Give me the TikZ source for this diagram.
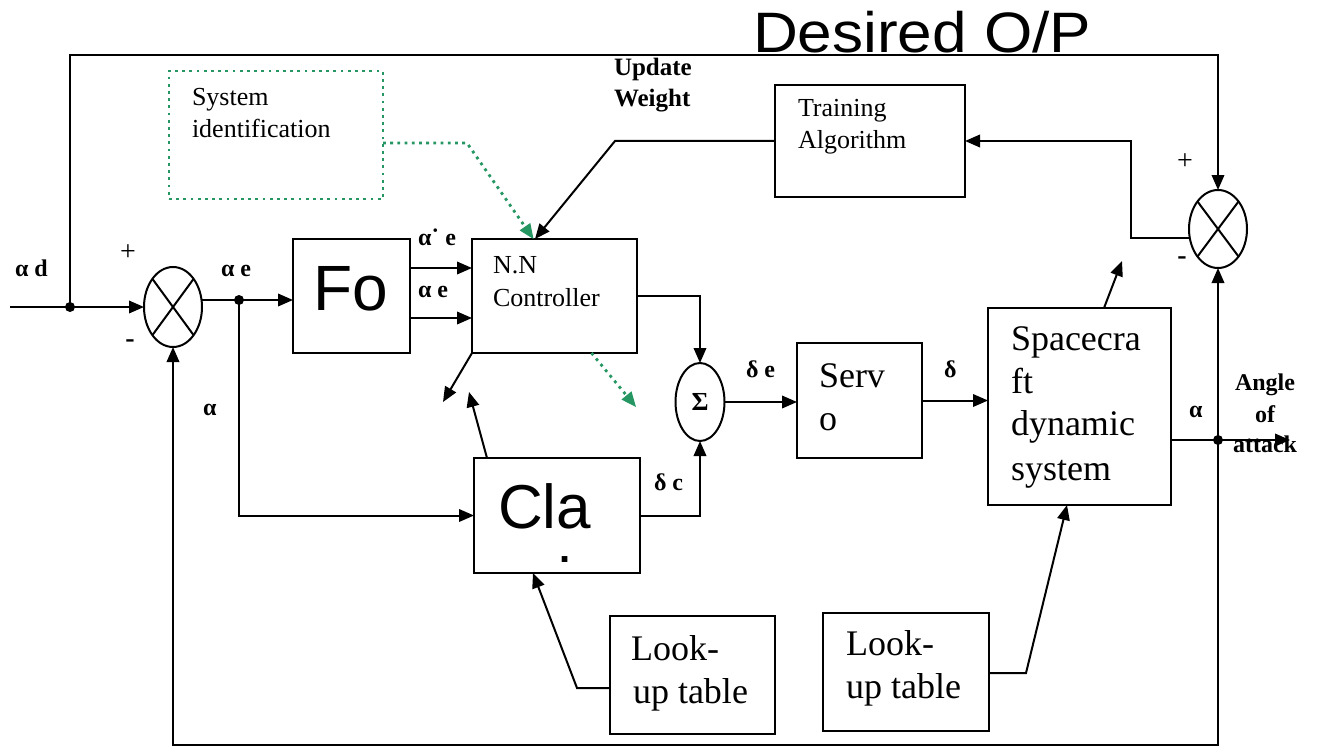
\documentclass[tikz,border=0pt]{standalone}
\usepackage{fontspec}
\setmainfont{Liberation Serif}
\newfontfamily\arialfam{Liberation Sans}
\usetikzlibrary{arrows.meta,calc,shapes.geometric}
\definecolor{idgreen}{RGB}{38,150,98}
\newcommand\fsz[1]{\fontsize{#1}{#1}\selectfont}

\begin{document}
\begin{tikzpicture}[x=1pt,y=-1pt,line width=2pt,
  box/.style={draw,rectangle,inner sep=0pt,outer sep=0pt},
  sumj/.style={draw,ellipse,inner sep=0pt,outer sep=0pt},
  arr/.style={-{Triangle[length=15pt,width=12.5pt]}},
  garr/.style={draw=idgreen,line width=2.8pt,dash pattern=on 2.8pt off 4.4pt,
    -{Triangle[length=15pt,width=13pt,fill=idgreen,line width=0pt,sep=0pt]}},
  gbox/.style={draw=idgreen,line width=2.8pt,dash pattern=on 2.8pt off 4.4pt},
  jdot/.style={circle,fill,inner sep=0pt,minimum size=10pt},
  txt/.style={anchor=base west,inner sep=0pt,font=\fsz{26}},
  big/.style={anchor=base west,inner sep=0pt,font=\fsz{36}},
  lbl/.style={anchor=base west,inner sep=0pt,font=\bfseries\fsz{24}},
  sgn/.style={inner sep=0pt,font=\fsz{28}}]
\useasboundingbox (0,0) rectangle (1317,749);

% ---------- blocks ----------
\node[box,gbox,minimum width=214pt,minimum height=128pt] (sysid) at (276,135) {};
\node[box,minimum width=190pt,minimum height=112pt] (train) at (870,141) {};
\node[box,minimum width=117pt,minimum height=114pt] (fo) at (351.5,296) {};
\node[box,minimum width=165pt,minimum height=114pt] (nn) at (554.5,296) {};
\node[box,minimum width=166pt,minimum height=115pt] (cla) at (557,515.5) {};
\node[box,minimum width=125pt,minimum height=115pt] (servo) at (859.5,400.5) {};
\node[box,minimum width=183pt,minimum height=197pt] (craft) at (1079.5,406.5) {};
\node[box,minimum width=165pt,minimum height=118pt] (lut1) at (692.5,675) {};
\node[box,minimum width=166pt,minimum height=118pt] (lut2) at (906,672) {};

% ---------- summing junctions ----------
\node[sumj,minimum width=58pt,minimum height=80pt] (sum1) at (173,307) {};
\node[sumj,minimum width=58pt,minimum height=78pt] (sum2) at (1218,229) {};
\node[sumj,minimum width=49pt,minimum height=78pt,font=\bfseries\fsz{26}] (sigma) at (700,402) {Σ};
\foreach \s/\rx/\ry in {sum1/20.5/28,sum2/20.5/27.5}{
  \draw ($(\s.center)+(-\rx,-\ry)$) -- ($(\s.center)+(\rx,\ry)$);
  \draw ($(\s.center)+(-\rx,\ry)$) -- ($(\s.center)+(\rx,-\ry)$);
}

% ---------- junction dots and free ends ----------
\node[jdot] (j1) at (70,307) {};
\node[jdot] (j2) at (239,300) {};
\node[jdot] (j3) at (1218,440) {};
\coordinate (in) at (10,307);
\coordinate (tr) at (1218,55);
\coordinate (br) at (1218,745);
\coordinate (out) at (1290,440);
\coordinate (s2w) at ($(sum2.center)+(-28.2,9)$);
\coordinate (bend) at (1131,238);
\coordinate (uw) at (615,141);
\coordinate (gk) at (467,143);
\coordinate (nnout) at (443,402);
\coordinate (claup) at (469,392);
\coordinate (gout) at (636,407);
\coordinate (craftup) at (1122,261);
\coordinate (k1) at (577,688);
\coordinate (k2) at (1026,673);

% ---------- connectors ----------
\draw[arr] (in) -- (sum1.west);
\draw[arr] (j1.center) |- (tr) -- (sum2.north);
\draw (sum1.east |- j2) -- (j2.center);
\draw[arr] (j2.center) -- (fo.west |- j2);
\draw[arr] (j2.center) |- (cla.west);
\draw[arr] ($(fo.east)+(0,-28)$) -- ($(nn.west)+(0,-28)$);
\draw[arr] ($(fo.east)+(0,22)$) -- ($(nn.west)+(0,22)$);
\draw[arr] (nn.east) -| (sigma.north);
\draw[arr] (cla.east) -| (sigma.south);
\draw[arr] (sigma.east) -- (servo.west |- sigma.east);
\draw[arr] (servo.east) -- (craft.west |- servo.east);
\draw[arr] (craft.east |- j3) -- (out);
\draw[arr] (j3.center) -- (sum2.south);
\draw[arr] (j3.center) -- (br) -| (sum1.south);
\draw[arr] (s2w) -- (bend) |- (train.east);
\draw[arr] (train.west) -- (uw) -- ($(nn.north)+(-19.5,0)$);
\draw[garr] (sysid.east |- gk) -- (gk) -- ($(nn.north)+(-21,0)$);
\draw[arr] (nn.south west) -- (nnout);
\draw[garr] ($(nn.south)+(37,0)$) -- (gout);
\draw[arr] ($(cla.north west)+(13,0)$) -- (claup);
\draw[arr] ($(craft.north)+(24.5,0)$) -- (craftup);
\draw[arr] ($(lut1.west)+(0,13)$) -- (k1) -- ($(cla.south)+(-24,0)$);
\draw[arr] ($(lut2.east)+(0,1)$) -- (k2) -- ($(craft.south)+(-12.5,0)$);

% ---------- texts ----------
\node[anchor=base west,inner sep=0pt,font=\arialfam\fsz{57}] (t-des) at (752,53)
  {\scalebox{1.09}[1]{Desired O/P}};
\node[txt] (t-sys1) at (191,106) {System};
\node[txt] (t-sys2) at (191,138) {identification};
\node[lbl,font=\bfseries\fsz{25}] (t-up1) at (613,76) {Update};
\node[lbl,font=\bfseries\fsz{25}] (t-up2) at (613,107) {Weight};
\node[txt] (t-tr1) at (797,117) {Training};
\node[txt] (t-tr2) at (797,149) {Algorithm};
\node[txt] (t-nn1) at (492,273) {N.N};
\node[txt] (t-nn2) at (492,306) {Controller};
\node[anchor=base,inner sep=0pt,font=\arialfam\fsz{64}] (t-fo) at (351,310) {Fo};
\node[anchor=base west,inner sep=0pt,font=\arialfam\fsz{62}] (t-cla) at (497,528) {Cla};
\node[anchor=base,inner sep=0pt,font=\arialfam\bfseries\fsz{40}] (t-dot) at (565.5,562) {.};
\node[big] (t-sv1) at (818,387) {Serv};
\node[big] (t-sv2) at (818,430) {o};
\node[big] (t-sc1) at (1010,350) {Spacecra};
\node[big] (t-sc2) at (1010,393) {ft};
\node[big] (t-sc3) at (1010,435) {dynamic};
\node[big] (t-sc4) at (1010,480) {system};
\node[big] (t-la1) at (630,660) {Look-};
\node[big] (t-la2) at (632,703) {up table};
\node[big] (t-lb1) at (845,655) {Look-};
\node[big] (t-lb2) at (845,698) {up table};

\node[lbl] (l-ad) at (14,276) {α d};
\node[lbl] (l-ae) at (220,276) {α e};
\node[lbl] (l-a1) at (202,415) {α};
\node[lbl] (l-ade) at (417,245) {α˙ e};
\node[lbl] (l-ae2) at (417,297) {α e};
\node[lbl] (l-de) at (745,377) {δ e};
\node[lbl] (l-d) at (943,377) {δ};
\node[lbl] (l-dc) at (653,490) {δ c};
\node[lbl] (l-a2) at (1188,417) {α};
\node[lbl,anchor=base] (l-ang1) at (1265,390) {Angle};
\node[lbl,anchor=base] (l-ang2) at (1265,422) {of};
\node[lbl,anchor=base] (l-ang3) at (1265,452) {attack};

\node[sgn] (p1) at (128,253) {+};
\node[sgn,font=\bfseries\fsz{28}] (m1) at (130,344) {-};
\node[sgn] (p2) at (1185,162) {+};
\node[sgn,font=\bfseries\fsz{28}] (m2) at (1182,261) {-};
\end{tikzpicture}
\end{document}
